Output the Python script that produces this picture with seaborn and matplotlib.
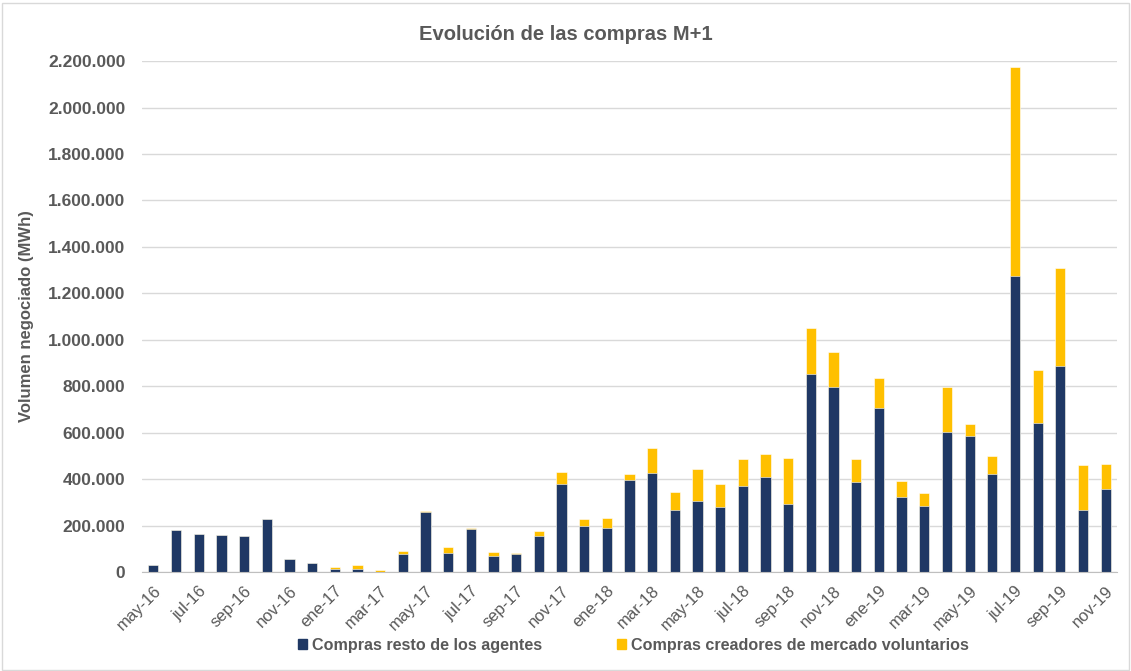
import numpy as np
import pandas as pd
import matplotlib
matplotlib.use("Agg")
import matplotlib.pyplot as plt
import matplotlib.ticker as mticker
from matplotlib.patches import Patch, Rectangle
import seaborn as sns

# ------------------------------------------------------------
# data
# ------------------------------------------------------------
months = [
    "may-16", "jun-16", "jul-16", "ago-16", "sep-16", "oct-16", "nov-16", "dic-16",
    "ene-17", "feb-17", "mar-17", "abr-17", "may-17", "jun-17", "jul-17", "ago-17",
    "sep-17", "oct-17", "nov-17", "dic-17", "ene-18", "feb-18", "mar-18", "abr-18",
    "may-18", "jun-18", "jul-18", "ago-18", "sep-18", "oct-18", "nov-18", "dic-18",
    "ene-19", "feb-19", "mar-19", "abr-19", "may-19", "jun-19", "jul-19", "ago-19",
    "sep-19", "oct-19", "nov-19",
]

resto_agentes = [
    31000, 182000, 163000, 159000, 155000, 230000, 54000, 40000,
    11000, 14000, 2000, 77000, 257000, 83000, 184000, 69000,
    77000, 154000, 381000, 200000, 191000, 395000, 428000, 267000,
    304000, 281000, 372000, 409000, 294000, 854000, 798000, 389000,
    708000, 323000, 284000, 603000, 584000, 423000, 1275000, 642000,
    887000, 267000, 356000,
]

creadores_mercado = [
    0, 0, 0, 0, 0, 0, 0, 0,
    12000, 17000, 5000, 15000, 7000, 24000, 4000, 19000,
    5000, 24000, 49000, 28000, 42000, 29000, 105000, 76000,
    138000, 99000, 113000, 99000, 195000, 196000, 148000, 96000,
    128000, 68000, 55000, 195000, 53000, 78000, 898000, 227000,
    422000, 195000, 111000,
]

NAVY = "#1F3864"
YELLOW = "#FFC000"
GREY_TXT = "#595959"
GRID = "#D9D9D9"

df = pd.DataFrame({
    "mes": months,
    "resto": resto_agentes,
    "creadores": creadores_mercado,
})
df["total"] = df["resto"] + df["creadores"]

# ------------------------------------------------------------
# plot
# ------------------------------------------------------------
sns.set_style("white")
plt.rcParams["font.family"] = ["Liberation Sans", "DejaVu Sans"]

fig = plt.figure(figsize=(11.31, 6.71), dpi=100)
ax = fig.add_axes([0.1256, 0.1475, 0.8620, 0.7615])

# stacked look: total in yellow, resto in navy on top of it
sns.barplot(data=df, x="mes", y="total", color=YELLOW, width=0.45,
            edgecolor="white", linewidth=0.4, ax=ax, saturation=1)
sns.barplot(data=df, x="mes", y="resto", color=NAVY, width=0.45,
            edgecolor="white", linewidth=0.4, ax=ax, saturation=1)

ax.set_ylim(0, 2200000)
ax.set_xlim(-0.5, len(months) - 0.5)
ax.yaxis.set_major_locator(mticker.MultipleLocator(200000))
ax.yaxis.set_major_formatter(
    mticker.FuncFormatter(lambda v, p: f"{int(v):,}".replace(",", "."))
)
ax.grid(axis="y", color=GRID, linewidth=1)
ax.set_axisbelow(True)

for s in ["top", "right", "left"]:
    ax.spines[s].set_visible(False)
ax.spines["bottom"].set_color("#BFBFBF")

# labels every two months, tick marks between categories
pos = np.arange(0, len(months), 2)
ax.set_xticks(pos)
ax.set_xticklabels([months[i] for i in pos], rotation=45, ha="right",
                   rotation_mode="anchor", fontsize=12, color=GREY_TXT)
ax.tick_params(axis="x", which="major", length=0, pad=8)
ax.set_xticks(np.arange(-0.5, len(months), 2), minor=True)
ax.tick_params(axis="x", which="minor", length=5, color="#BFBFBF")

ax.tick_params(axis="y", length=0, pad=12)
for lbl in ax.get_yticklabels():
    lbl.set_fontsize(12.5)
    lbl.set_fontweight("bold")
    lbl.set_color(GREY_TXT)

ax.set_xlabel("")
ax.set_ylabel("Volumen negociado (MWh)", fontsize=12, fontweight="bold",
              color=GREY_TXT, labelpad=10)

fig.suptitle("Evolución de las compras M+1", x=0.5, y=0.963, fontsize=14.5,
             fontweight="bold", color=GREY_TXT)

handles = [Patch(color=NAVY, label="Compras resto de los agentes"),
           Patch(color=YELLOW, label="Compras creadores de mercado voluntarios")]
leg = fig.legend(handles=handles, loc="center", bbox_to_anchor=(0.56, 0.038),
                 ncol=2, frameon=False, handlelength=0.6, handleheight=0.6,
                 handletextpad=0.3, columnspacing=4.6,
                 prop={"size": 11.6, "weight": "bold"})
for t in leg.get_texts():
    t.set_color(GREY_TXT)

# outer chart border
fig.patches.append(Rectangle((0.002, 0.002), 0.996, 0.994, transform=fig.transFigure,
                             fill=False, edgecolor="#D9D9D9", linewidth=1))

fig.savefig("out.png", dpi=100)
plt.close(fig)
